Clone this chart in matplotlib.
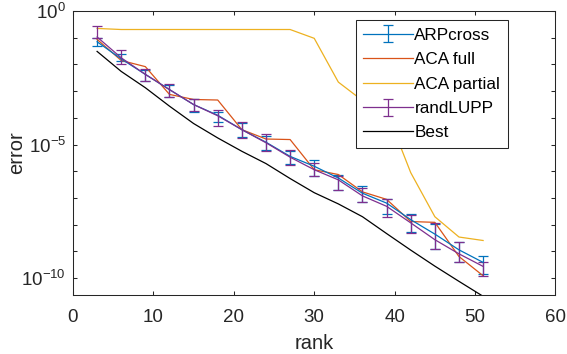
import numpy as np
import matplotlib
matplotlib.use("Agg")
import matplotlib.pyplot as plt
from matplotlib.ticker import FixedLocator, FixedFormatter

plt.rcParams['font.family'] = ['Liberation Sans', 'DejaVu Sans']
plt.rcParams['mathtext.fontset'] = 'custom'
plt.rcParams['mathtext.rm'] = 'Liberation Sans'
plt.rcParams['mathtext.it'] = 'Liberation Sans'
plt.rcParams['mathtext.bf'] = 'Liberation Sans'

# ---- data (log10 of error) ----
rank = [3, 6, 9, 12, 15, 18, 21, 24, 27, 30, 33, 36, 39, 42, 45, 48, 51]

arp_log = [-1.15, -1.79, -2.37, -2.94, -3.50, -3.90, -4.44, -4.91, -5.44,
           -5.81, -6.25, -6.82, -7.19, -7.81, -8.35, -8.94, -9.41]
arp_hi_log = [-1.02, -1.60, -2.20, -2.75, -3.31, -3.78, -4.19, -4.66, -5.25,
              -5.59, -6.12, -6.56, -7.04, -7.59, -7.96, -8.65, -9.16]
arp_lo_log = [-1.31, -1.88, -2.60, -3.20, -3.77, -4.16, -4.71, -5.22, -5.71,
              -6.19, -6.71, -7.16, -7.60, -8.29, -8.90, -9.41, -9.84]

acafull_log = [-1.06, -1.85, -2.08, -3.12, -3.31, -3.33, -4.44, -4.79, -4.81,
               -5.94, -6.12, -6.77, -7.05, -7.88, -7.91, -9.19, -9.91]

acapart_log = [-0.65, -0.69, -0.69, -0.69, -0.69, -0.69, -0.69, -0.69, -0.69,
               -1.02, -2.66, -3.35, -3.75, -6.05, -7.70, -8.46, -8.59]

lupp_log = [-0.97, -1.75, -2.37, -2.94, -3.50, -3.92, -4.44, -4.93, -5.47,
            -5.94, -6.32, -6.92, -7.31, -7.93, -8.56, -9.09, -9.56]
lupp_hi_log = [-0.57, -1.47, -2.16, -2.72, -3.29, -3.69, -4.16, -4.62, -5.21,
               -5.69, -6.19, -6.61, -7.04, -7.65, -7.93, -8.65, -9.38]
lupp_lo_log = [-1.02, -2.00, -2.63, -3.23, -3.75, -4.29, -4.75, -5.25, -5.75,
               -6.19, -6.71, -7.16, -7.71, -8.30, -8.91, -9.41, -9.91]

best_log = [-1.51, -2.26, -2.87, -3.56, -4.21, -4.75, -5.25, -5.71, -6.27,
            -6.80, -7.22, -7.70, -8.33, -8.95, -9.55, -10.12, -10.68]

labels = ['ARPcross', 'ACA full', 'ACA partial', 'randLUPP', 'Best']
colors = ['#0072BD', '#D95319', '#EDB120', '#7E2F8E', '#000000']


def lin(a):
    return 10.0 ** np.asarray(a)


fig = plt.figure(figsize=(5.67, 3.54), dpi=100)
ax = fig.add_axes([0.1287, 0.1667, 0.851, 0.802])

lw = 0.9
arp = lin(arp_log)
h1 = ax.errorbar(rank, arp, yerr=[arp - lin(arp_lo_log), lin(arp_hi_log) - arp],
                 color=colors[0], lw=lw, elinewidth=lw, capsize=3.6,
                 capthick=lw, label=labels[0])
h2, = ax.plot(rank, lin(acafull_log), color=colors[1], lw=lw, label=labels[1])
h3, = ax.plot(rank, lin(acapart_log), color=colors[2], lw=lw, label=labels[2])
lu = lin(lupp_log)
h4 = ax.errorbar(rank, lu, yerr=[lu - lin(lupp_lo_log), lin(lupp_hi_log) - lu],
                 color=colors[3], lw=lw, elinewidth=lw, capsize=3.6,
                 capthick=lw, label=labels[3])
h5, = ax.plot(rank, lin(best_log), color=colors[4], lw=lw, label=labels[4])

ax.set_yscale('log')
ax.set_xlim(0, 60)
ax.set_ylim(10 ** -10.63, 1)
ax.set_xticks([0, 10, 20, 30, 40, 50, 60])

dec = [10.0 ** (-k) for k in range(0, 11)]
ax.yaxis.set_major_locator(FixedLocator(dec))
ylabels = ['' for _ in dec]
ylabels[0] = r'$10^{0}$'
ylabels[5] = r'$10^{-5}$'
ylabels[10] = r'$10^{-10}$'
ax.yaxis.set_major_formatter(FixedFormatter(ylabels))
ax.yaxis.set_minor_locator(FixedLocator([]))

axc = '#262626'
for s in ax.spines.values():
    s.set_color(axc)
    s.set_linewidth(0.75)
ax.tick_params(which='both', direction='in', top=True, right=True,
               length=3, width=0.75, color=axc, labelcolor=axc,
               labelsize=13.5)
ax.tick_params(axis='x', pad=10)
ax.tick_params(axis='y', pad=5)

ax.set_xlabel('rank', fontsize=14.5, color=axc, labelpad=6)
ax.set_ylabel('error', fontsize=14.5, color=axc)
ax.yaxis.set_label_coords(-0.097, 0.5)

leg = ax.legend([h1, h2, h3, h4, h5], labels,
                loc='upper right', bbox_to_anchor=(0.9016, 0.968),
                fontsize=12.3, frameon=True, fancybox=False, framealpha=1,
                edgecolor=axc, handlelength=2.9, handletextpad=0.1,
                borderpad=0.45, labelspacing=0.55, borderaxespad=0)
leg.get_frame().set_linewidth(0.75)

fig.savefig('out.png', dpi=100)
